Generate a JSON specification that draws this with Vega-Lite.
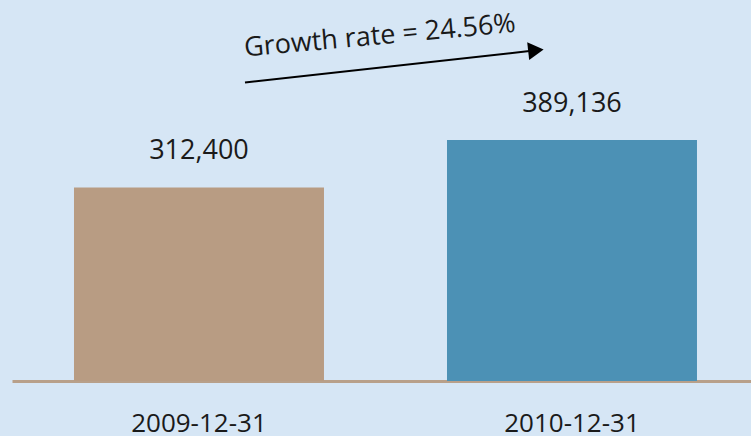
{
  "$schema": "https://vega.github.io/schema/vega-lite/v6.json",
  "width": 739,
  "height": 381,
  "autosize": {"type": "none"},
  "padding": {"left": 12, "top": 0, "right": 0, "bottom": 55},
  "background": "#d6e6f5",
  "config": {"view": {"stroke": null}, "font": "Open Sans"},
  "layer": [
    {
      "data": {"values": [
        {"date": "2009-12-31", "value": 312400, "label": "312,400"},
        {"date": "2010-12-31", "value": 389136, "label": "389,136"}
      ]},
      "mark": {"type": "bar"},
      "encoding": {
        "x": {
          "field": "date", "type": "nominal",
          "scale": {"paddingInner": 0.3298, "paddingOuter": 0.1555, "align": 0.5344},
          "axis": {"title": null, "labelAngle": 0, "ticks": false, "labelFontSize": 26, "labelColor": "#1a1a1a", "labelBaseline": "alphabetic", "labelPadding": 50, "domainColor": "#b8a08a", "domainWidth": 3, "labelFont": "Open Sans"}
        },
        "y": {"field": "value", "type": "quantitative", "scale": {"domain": [0, 615000], "nice": false}, "axis": null},
        "color": {"field": "date", "type": "nominal", "scale": {"range": ["#b89c83", "#4c91b5"]}, "legend": null}
      }
    },
    {
      "data": {"values": [
        {"date": "2009-12-31", "value": 312400, "label": "312,400"},
        {"date": "2010-12-31", "value": 389136, "label": "389,136"}
      ]},
      "mark": {"type": "text", "dy": -28, "baseline": "alphabetic", "fontSize": 27, "color": "#1a1a1a"},
      "encoding": {
        "x": {"field": "date", "type": "nominal"},
        "y": {"field": "value", "type": "quantitative", "scale": {"domain": [0, 615000], "nice": false}},
        "text": {"field": "label"}
      }
    },
    {
      "data": {"values": [
        {"from": "2009-12-31", "to": "2010-12-31", "y": 481750, "y2": 533758}
      ]},
      "mark": {"type": "rule", "color": "#000000", "strokeWidth": 2},
      "encoding": {
        "x": {"field": "from", "type": "nominal", "bandPosition": 0.684},
        "x2": {"field": "to", "bandPosition": 0.3556},
        "y": {"field": "y", "type": "quantitative", "scale": {"domain": [0, 615000], "nice": false}},
        "y2": {"field": "y2"}
      }
    },
    {
      "data": {"values": [
        {"to": "2010-12-31", "y2": 533758}
      ]},
      "mark": {"type": "point", "shape": "triangle-right", "size": 320, "angle": 353.7, "filled": true, "color": "#000000", "opacity": 1},
      "encoding": {
        "x": {"field": "to", "type": "nominal", "bandPosition": 0.3556},
        "y": {"field": "y2", "type": "quantitative", "scale": {"domain": [0, 615000], "nice": false}}
      }
    },
    {
      "data": {"values": [
        {"from": "2009-12-31", "y": 523745, "text": "Growth rate = 24.56%"}
      ]},
      "mark": {"type": "text", "align": "left", "baseline": "alphabetic", "angle": 354.8, "fontSize": 27, "color": "#1a1a1a"},
      "encoding": {
        "x": {"field": "from", "type": "nominal", "bandPosition": 0.684},
        "y": {"field": "y", "type": "quantitative", "scale": {"domain": [0, 615000], "nice": false}},
        "text": {"field": "text"}
      }
    }
  ]
}
